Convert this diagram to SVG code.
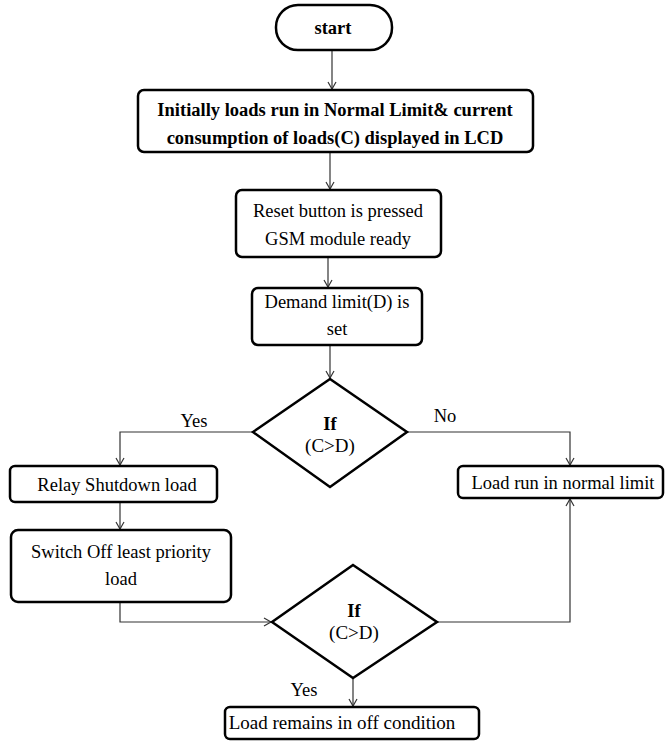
<svg xmlns="http://www.w3.org/2000/svg" width="665" height="742" viewBox="0 0 665 742">
<defs>
<style>
.box{fill:#fff;stroke:#000;stroke-width:2.5}
.conn{fill:none;stroke:#333;stroke-width:1.2}
.t{font-family:'Liberation Serif','DejaVu Serif',serif;font-size:18.5px;fill:#000;text-anchor:middle}
.b{font-weight:bold}
.l{font-size:19px}
</style>
<marker id="ah" markerWidth="10" markerHeight="10" refX="8" refY="5" orient="auto" markerUnits="userSpaceOnUse">
<path d="M1,1 L8,5 L1,9" fill="none" stroke="#333" stroke-width="1.2"/>
</marker>
</defs>
<rect width="665" height="742" fill="#fff"/>
<g id="connectors">
<path class="conn" d="M332,50 V89" marker-end="url(#ah)"/>
<path class="conn" d="M330,152 V189" marker-end="url(#ah)"/>
<path class="conn" d="M328,257 V287" marker-end="url(#ah)"/>
<path class="conn" d="M330,345 V378" marker-end="url(#ah)"/>
<path class="conn" d="M253,432 H120 V465" marker-end="url(#ah)"/>
<path class="conn" d="M407,432 H570 V465" marker-end="url(#ah)"/>
<path class="conn" d="M120,502 V529" marker-end="url(#ah)"/>
<path class="conn" d="M120,602 V622 H271" marker-end="url(#ah)"/>
<path class="conn" d="M437,622 H570 V499" marker-end="url(#ah)"/>
<path class="conn" d="M353,678 V706" marker-end="url(#ah)"/>
</g>
<g id="start">
<rect class="box" x="276" y="5" width="116" height="45" rx="22" ry="22"/>
<text class="t b" x="333" y="34">start</text>
</g>
<g id="init">
<rect class="box" x="138" y="90" width="395" height="62" rx="6"/>
<text class="t b" x="335" y="116">Initially loads run in Normal Limit&amp; current</text>
<text class="t b" x="335" y="144">consumption of loads(C) displayed in LCD</text>
</g>
<g id="reset">
<rect class="box" x="236" y="190" width="205" height="67" rx="6"/>
<text class="t" x="338" y="217">Reset button is pressed</text>
<text class="t" x="338" y="245">GSM module ready</text>
</g>
<g id="demand">
<rect class="box" x="252" y="288" width="170" height="57" rx="6"/>
<text class="t" x="337" y="308">Demand limit(D) is</text>
<text class="t" x="337" y="335">set</text>
</g>
<g id="if1">
<polygon class="box" points="330,379 407,432 330,487 253,432"/>
<text class="t b" x="330" y="430">If</text>
<text class="t l" x="330" y="452">(C&gt;D)</text>
</g>
<text class="t" x="194" y="427">Yes</text>
<text class="t" x="445" y="422">No</text>
<g id="relay">
<rect class="box" x="10" y="466" width="207" height="36" rx="5"/>
<text class="t" x="117" y="491">Relay Shutdown load</text>
</g>
<g id="normal">
<rect class="box" x="458" y="466" width="205" height="32" rx="5"/>
<text class="t" x="563" y="489">Load run in normal limit</text>
</g>
<g id="switchoff">
<rect class="box" x="11" y="530" width="220" height="72" rx="7"/>
<text class="t" x="121" y="558">Switch Off least priority</text>
<text class="t" x="121" y="585">load</text>
</g>
<g id="if2">
<polygon class="box" points="353,565 437,622 353,678 272,622"/>
<text class="t b" x="354" y="617">If</text>
<text class="t l" x="354" y="639">(C&gt;D)</text>
</g>
<text class="t" x="304" y="696">Yes</text>
<g id="remain">
<rect class="box" x="225" y="707" width="254" height="32" rx="5"/>
<text class="t l" x="342" y="729">Load remains in off condition</text>
</g>
</svg>
